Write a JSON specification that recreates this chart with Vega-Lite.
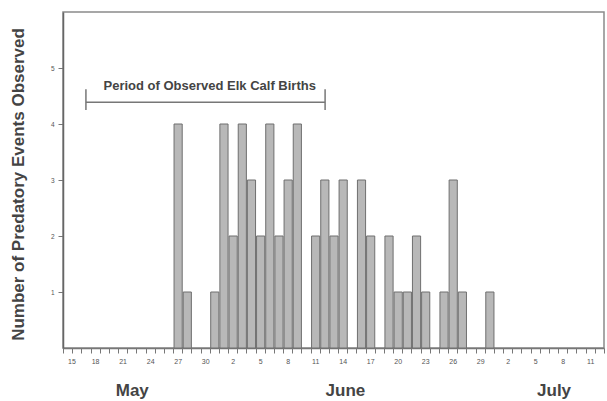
{
  "$schema": "https://vega.github.io/schema/vega-lite/v6.json",
  "width": 541,
  "height": 336,
  "autosize": "none",
  "padding": {"left": 63, "top": 12, "right": 3, "bottom": 53},
  "background": "white",
  "config": {
    "font": "Liberation Sans",
    "view": {"stroke": "#8a8a8a", "strokeWidth": 1.5},
    "axis": {"grid": false}
  },
  "resolve": {"axis": {"x": "independent"}},
  "layer": [
    {
      "data": {"values": [
        {"date": "1990-05-27", "events": 4},
        {"date": "1990-05-28", "events": 1},
        {"date": "1990-05-31", "events": 1},
        {"date": "1990-06-01", "events": 4},
        {"date": "1990-06-02", "events": 2},
        {"date": "1990-06-03", "events": 4},
        {"date": "1990-06-04", "events": 3},
        {"date": "1990-06-05", "events": 2},
        {"date": "1990-06-06", "events": 4},
        {"date": "1990-06-07", "events": 2},
        {"date": "1990-06-08", "events": 3},
        {"date": "1990-06-09", "events": 4},
        {"date": "1990-06-11", "events": 2},
        {"date": "1990-06-12", "events": 3},
        {"date": "1990-06-13", "events": 2},
        {"date": "1990-06-14", "events": 3},
        {"date": "1990-06-16", "events": 3},
        {"date": "1990-06-17", "events": 2},
        {"date": "1990-06-19", "events": 2},
        {"date": "1990-06-20", "events": 1},
        {"date": "1990-06-21", "events": 1},
        {"date": "1990-06-22", "events": 2},
        {"date": "1990-06-23", "events": 1},
        {"date": "1990-06-25", "events": 1},
        {"date": "1990-06-26", "events": 3},
        {"date": "1990-06-27", "events": 1},
        {"date": "1990-06-30", "events": 1}
      ]},
      "mark": {"type": "bar", "fill": "#b8b8b8", "stroke": "#6f6f6f", "strokeWidth": 1},
      "encoding": {
        "x": {
          "field": "date", "type": "temporal", "timeUnit": "utcyearmonthdate",
          "scale": {"type": "utc", "domain": [
            {"year": 1990, "month": 5, "date": 15, "utc": true},
            {"year": 1990, "month": 7, "date": 13, "utc": true}
          ]},
          "axis": {
            "orient": "bottom",
            "title": null,
            "tickCount": {"interval": "day", "step": 1},
            "labelExpr": "round((datum.value - utc(1990,4,15)) / 86400000) % 3 == 0 ? utcdate(datum.value) : ''",
            "labelOverlap": false,
            "labelOffset": 4.6,
            "labelFontSize": 7,
            "labelColor": "#555555",
            "labelPadding": 4,
            "tickSize": 5,
            "tickColor": "#777777",
            "domainColor": "#777777",
            "domainWidth": 1.5
          }
        },
        "y": {
          "field": "events", "type": "quantitative",
          "scale": {"domain": [0, 6]},
          "axis": {
            "title": "Number of Predatory Events Observed",
            "values": [1, 2, 3, 4, 5],
            "format": "d",
            "labelFontSize": 6.5,
            "labelColor": "#555555",
            "labelPadding": 4,
            "tickSize": 5,
            "tickColor": "#777777",
            "domainColor": "#666666",
            "domainWidth": 1.5,
            "titleFontSize": 17,
            "titleFontWeight": "bold",
            "titleColor": "#444444",
            "titleX": -45,
            "titleY": 172,
            "titleAlign": "center",
            "titleBaseline": "middle"
          }
        }
      }
    },
    {
      "data": {"values": [
        {"start": "1990-05-17T12:00:00Z", "end": "1990-06-12T14:00:00Z", "mid": "1990-05-31T00:00:00Z", "label": "Period of Observed Elk Calf Births"}
      ]},
      "layer": [
        {
          "mark": {"type": "rule", "stroke": "#777777", "strokeWidth": 1.5},
          "encoding": {
            "x": {"field": "start", "type": "temporal", "scale": {"type": "utc"},
              "axis": {
                "orient": "bottom",
                "title": null,
                "values": [
                  {"year": 1990, "month": 5, "date": 22, "hours": 12, "utc": true},
                  {"year": 1990, "month": 6, "date": 14, "hours": 18, "utc": true},
                  {"year": 1990, "month": 7, "date": 7, "hours": 12, "utc": true}
                ],
                "format": "%B",
                "ticks": false,
                "domain": false,
                "labelFontSize": 17,
                "labelFontWeight": "bold",
                "labelColor": "#444444",
                "labelPadding": 34,
                "labelOverlap": false
              }
            },
            "x2": {"field": "end"},
            "y": {"datum": 4.39}
          }
        },
        {
          "mark": {"type": "rule", "stroke": "#777777", "strokeWidth": 1.5},
          "encoding": {
            "x": {"field": "start", "type": "temporal"},
            "y": {"datum": 4.25},
            "y2": {"datum": 4.62}
          }
        },
        {
          "mark": {"type": "rule", "stroke": "#777777", "strokeWidth": 1.5},
          "encoding": {
            "x": {"field": "end", "type": "temporal"},
            "y": {"datum": 4.25},
            "y2": {"datum": 4.62}
          }
        },
        {
          "mark": {"type": "text", "fontSize": 13, "fontWeight": "bold", "fill": "#444444", "align": "center", "baseline": "middle"},
          "encoding": {
            "x": {"field": "mid", "type": "temporal"},
            "y": {"datum": 4.68},
            "text": {"field": "label"}
          }
        }
      ]
    }
  ]
}
